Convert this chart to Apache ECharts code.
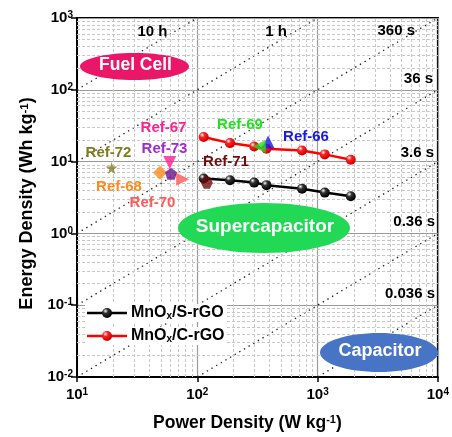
<!DOCTYPE html>
<html><head><meta charset="utf-8">
<script src="https://cdn.jsdelivr.net/npm/echarts@6/dist/echarts.min.js"></script>
<style>html,body{margin:0;padding:0;background:#fff}#c{width:452px;height:437px}</style>
</head><body><div id="c"></div>
<script>
// ---- data ----
const powerDensity = [113, 187, 297, 376, 742, 1148, 1887];
const energySrGO = [5.8, 5.5, 5.1, 4.7, 4.2, 3.7, 3.3];
const energyCrGO = [22, 18.1, 16.2, 15.1, 14.3, 12.6, 10.6];
const refNames  = ['Ref-66', 'Ref-67', 'Ref-68', 'Ref-69', 'Ref-70', 'Ref-71', 'Ref-72', 'Ref-73'];
const refPower  = [388, 59, 49, 327, 75.5, 120, 19.4, 60.5];
const refEnergy = [18.7, 9.7, 7.0, 16.2, 5.7, 5.06, 8.15, 6.8];
const timeLabels = ['10 h', '1 h', '360 s', '36 s', '3.6 s', '0.36 s', '0.036 s'];
const timeHours  = [10, 1, 0.1, 0.01, 0.001, 0.0001, 0.00001];
const xTicks = [10, 100, 1000, 10000];
const yTicks = [0.01, 0.1, 1, 10, 100, 1000];
const regionNames = ['Fuel Cell', 'Supercapacitor', 'Capacitor'];
const seriesNames = ['MnOx/S-rGO', 'MnOx/C-rGO'];

// ---- styles ----
const FONT = 'Arial, "Liberation Sans", Helvetica, sans-serif';
const STAR = 'path://M50,0 L61,35 L98,35 L68,57 L79,91 L50,70 L21,91 L32,57 L2,35 L39,35 Z';
const PENT = 'path://M50,0 L98,36 L80,95 L20,95 L2,36 Z';
const HEX = 'path://M25,0 L75,0 L100,50 L75,100 L25,100 L0,50 Z';
const refStyle = {
  'Ref-66': {symbol: 'triangle', rot: 0, size: 13, color: '#1a1ae0', label: [306, 136.5]},
  'Ref-67': {symbol: 'triangle', rot: 180, size: 13, color: '#ff1f8f', label: [163.5, 128]},
  'Ref-68': {symbol: 'diamond', rot: 0, size: 14, color: '#ff8a1c', label: [119, 186.5]},
  'Ref-69': {symbol: 'triangle', rot: 90, size: 13, color: '#22e022', label: [240, 125]},
  'Ref-70': {symbol: 'triangle', rot: -90, size: 13, color: '#ff5a5a', label: [152.5, 202.5]},
  'Ref-71': {symbol: HEX, rot: 0, size: 12, color: '#6e0d0d', label: [226, 161.5]},
  'Ref-72': {symbol: STAR, rot: 0, size: 12, color: '#7d7d1e', label: [108.5, 152.5]},
  'Ref-73': {symbol: PENT, rot: 0, size: 12, color: '#6a158f', labelColor: '#a029d6', label: [164.5, 149]}
};
const timeLabelPos = [
  [152.5, 31.5, 'center'], [276, 31.5, 'center'], [415, 31, 'right'], [433, 79, 'right'],
  [434, 152.5, 'right'], [435, 221.5, 'right'], [435, 294, 'right']
];
const regionStyle = [
  {cx: 134.5, cy: 66.5, rx: 54.5, ry: 13.5, fill: '#ea1769', fs: 17.5},
  {cx: 264, cy: 228, rx: 86, ry: 25, fill: '#22d955', fs: 19},
  {cx: 379, cy: 352.5, rx: 59, ry: 19.5, fill: '#4874c6', fs: 18}
];
const seriesStyle = [
  {line: '#000', base: '#333', dark: '#000'},
  {line: '#f00', base: '#f22', dark: '#c00'}
];
// legend layout: [lineStartX, lineEndX, y, textX]
const legendPos = [[87, 127, 313, 131], [87, 127, 336, 131]];

const minorX = [];
for (let d = 10; d < 10000; d *= 10) for (let k = 2; k <= 9; k++) minorX.push(+(d * k).toPrecision(3));
const minorY = [];
for (let e = -2; e < 3; e++) for (let k = 2; k <= 9; k++) minorY.push(+(k * Math.pow(10, e)).toPrecision(3));

function supLabel(v) {
  const e = Math.round(Math.log10(v));
  return '{b|10}{s|' + e + '}';
}
const tickRich = {
  b: {fontSize: 15, fontWeight: 'bold', fontFamily: FONT, color: '#000'},
  s: {fontSize: 10, fontWeight: 'bold', fontFamily: FONT, color: '#000', verticalAlign: 'top'}
};
const nameRich = {
  n: {fontSize: 17.5, fontWeight: 'bold', fontFamily: FONT, color: '#000'},
  s: {fontSize: 11, fontWeight: 'bold', fontFamily: FONT, color: '#000', verticalAlign: 'top'}
};
const yNameRich = {
  n: {fontSize: 18, fontWeight: 'bold', fontFamily: FONT, color: '#000'},
  s: {fontSize: 11.5, fontWeight: 'bold', fontFamily: FONT, color: '#000', verticalAlign: 'top'}
};
const legendRich = {
  n: {font: 'bold 16px ' + FONT, fill: '#000'},
  sub: {font: 'bold 10px ' + FONT, fill: '#000', verticalAlign: 'bottom'}
};

function glossy(base, dark) {
  return new echarts.graphic.RadialGradient(0.35, 0.3, 0.7, [
    {offset: 0, color: '#ffffff'}, {offset: 0.35, color: base}, {offset: 1, color: dark}
  ]);
}

const series = [];
// minor grid lines (dashed) through the axes' own scales
series.push({
  type: 'line', data: [], silent: true, z: 0, animation: false,
  markLine: {
    silent: true, symbol: 'none', label: {show: false}, animation: false,
    lineStyle: {color: '#c8c8c8', type: [3, 2], width: 1},
    emphasis: {disabled: true},
    data: minorX.map(v => ({xAxis: v})).concat(minorY.map(v => ({yAxis: v})))
  }
});
// constant-time dotted lines
timeHours.forEach((t, i) => {
  series.push({
    type: 'line', name: timeLabels[i], silent: true, showSymbol: false, clip: true, z: 1,
    data: [[xTicks[0], xTicks[0] * t], [xTicks[xTicks.length - 1], xTicks[xTicks.length - 1] * t]],
    lineStyle: {color: '#222', width: 1.3, type: [1.4, 4]}
  });
});
[energySrGO, energyCrGO].forEach((arr, k) => {
  const st = seriesStyle[k];
  series.push({
    type: 'line', name: seriesNames[k], z: 5,
    data: powerDensity.map((p, i) => [p, arr[i]]),
    symbol: 'circle', symbolSize: 10,
    lineStyle: {color: st.line, width: 2.5},
    itemStyle: {color: glossy(st.base, st.dark)}
  });
});
refNames.forEach((n, i) => {
  const st = refStyle[n];
  series.push({
    type: 'scatter', name: n, z: 6,
    data: [[refPower[i], refEnergy[i]]],
    symbol: st.symbol, symbolRotate: st.rot, symbolSize: st.size,
    itemStyle: {color: st.color}
  });
});

const graphic = [];
regionNames.forEach((n, i) => {
  const r = regionStyle[i];
  graphic.push({type: 'ellipse', shape: {cx: r.cx, cy: r.cy, rx: r.rx, ry: r.ry}, style: {fill: r.fill}, z: 50});
  graphic.push({type: 'text', x: r.cx + 1, y: r.cy - 1, z: 51,
    style: {text: n, fill: '#fff', font: 'bold ' + r.fs + 'px ' + FONT, textAlign: 'center', textVerticalAlign: 'middle'}});
});
timeLabels.forEach((t, i) => {
  const p = timeLabelPos[i];
  graphic.push({type: 'text', x: p[0], y: p[1], z: 51,
    style: {text: t, fill: '#000', font: 'bold 15px ' + FONT, textAlign: p[2], textVerticalAlign: 'middle'}});
});
refNames.forEach((n) => {
  const st = refStyle[n];
  graphic.push({type: 'text', x: st.label[0], y: st.label[1], z: 51,
    style: {text: n, fill: st.labelColor || st.color, font: 'bold 15px ' + FONT, textAlign: 'center', textVerticalAlign: 'middle'}});
});
// legend (icon line + glossy marker + rich text)
seriesNames.forEach((n, k) => {
  const p = legendPos[k];
  const st = seriesStyle[k];
  graphic.push({type: 'rect', shape: {x: p[0] - 2, y: p[2] - 9, width: 142, height: 18}, style: {fill: '#fff'}, z: 49});
  graphic.push({type: 'line', shape: {x1: p[0], y1: p[2], x2: p[1], y2: p[2]}, style: {stroke: st.line, lineWidth: 2.5}, z: 52});
  graphic.push({type: 'circle', shape: {cx: (p[0] + p[1]) / 2, cy: p[2], r: 5}, style: {fill: glossy(st.base, st.dark)}, z: 53});
  graphic.push({type: 'text', x: p[3], y: p[2], z: 51,
    style: {text: '{n|' + n.replace('MnOx', 'MnO}{sub|x}{n|') + '}', rich: legendRich,
      fill: '#000', font: 'bold 16px ' + FONT, textAlign: 'left', textVerticalAlign: 'middle'}});
});

const chart = echarts.init(document.getElementById('c'));
chart.setOption({
  animation: false,
  backgroundColor: '#fff',
  grid: {left: 77, right: 13, top: 18, bottom: 57, show: true, borderColor: '#000', borderWidth: 2, backgroundColor: 'transparent'},
  xAxis: {
    type: 'log', logBase: 10, min: xTicks[0], max: xTicks[xTicks.length - 1],
    name: '{n|Power Density (W kg}{s|-1}{n|)}', nameLocation: 'middle', nameGap: 37,
    nameTextStyle: {rich: nameRich, padding: [0, 20, 0, 0]},
    axisLine: {lineStyle: {color: '#000', width: 2}},
    axisTick: {show: true, length: 5, lineStyle: {color: '#000', width: 1.5}},
    axisLabel: {formatter: supLabel, rich: tickRich, margin: 10},
    splitLine: {show: true, lineStyle: {color: '#9a9a9a', width: 1.2}},
    minorTick: {show: false}, minorSplitLine: {show: false}
  },
  yAxis: {
    type: 'log', logBase: 10, min: yTicks[0], max: yTicks[yTicks.length - 1],
    name: '{n|Energy Density (Wh kg}{s|-1}{n|)}', nameLocation: 'middle', nameGap: 40, nameRotate: 90,
    nameTextStyle: {rich: yNameRich, padding: [0, 12, 0, 0]},
    axisLine: {lineStyle: {color: '#000', width: 2}},
    axisTick: {show: true, length: 6, lineStyle: {color: '#000', width: 1.5}},
    axisLabel: {formatter: supLabel, rich: tickRich, margin: 4},
    splitLine: {show: true, lineStyle: {color: '#9a9a9a', width: 1.2}},
    minorTick: {show: false}, minorSplitLine: {show: false}
  },
  series: series,
  graphic: graphic
});
</script>
</body></html>
